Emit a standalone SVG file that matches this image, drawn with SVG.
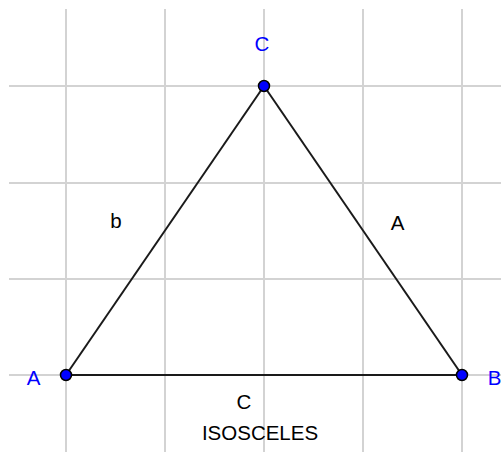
<svg xmlns="http://www.w3.org/2000/svg" width="501" height="452" viewBox="0 0 501 452">
<style>
.grid{stroke:#d3d3d3;stroke-width:2;fill:none}
.edge{stroke:#1a1a1a;stroke-width:2;fill:none}
.pt{fill:#0000ff;stroke:#000;stroke-width:1.5}
.lbl{font-family:"Liberation Sans",Arial,sans-serif;font-size:20.5px;text-anchor:middle}
.blue{fill:#0000ff}
.black{fill:#000}
</style>
<rect width="501" height="452" fill="#fff"/>
<g id="grid" class="grid">
<line x1="66" y1="9" x2="66" y2="452"/>
<line x1="165" y1="9" x2="165" y2="452"/>
<line x1="264" y1="9" x2="264" y2="452"/>
<line x1="363" y1="9" x2="363" y2="452"/>
<line x1="462" y1="9" x2="462" y2="452"/>
<line x1="9" y1="86" x2="501" y2="86"/>
<line x1="9" y1="183" x2="501" y2="183"/>
<line x1="9" y1="279" x2="501" y2="279"/>
<line x1="9" y1="375" x2="501" y2="375"/>
</g>
<g id="connectors" class="edge">
<line id="edge-b" x1="66" y1="375" x2="264" y2="86"/>
<line id="edge-a" x1="264" y1="86" x2="462" y2="375"/>
<line id="edge-c" x1="66" y1="375" x2="462" y2="375"/>
</g>
<g id="node-A">
<circle class="pt" cx="66" cy="375" r="5.5"/>
<text class="lbl blue" x="33.5" y="385">A</text>
</g>
<g id="node-B">
<circle class="pt" cx="462" cy="375" r="5.5"/>
<text class="lbl blue" x="494.5" y="385">B</text>
</g>
<g id="node-C">
<circle class="pt" cx="264" cy="86" r="5.5"/>
<text class="lbl blue" x="262" y="51">C</text>
</g>
<g id="labels">
<text class="lbl black" x="116" y="228">b</text>
<text class="lbl black" x="397.5" y="230">A</text>
<text class="lbl black" x="244" y="409">C</text>
<text class="lbl black" x="260" y="440">ISOSCELES</text>
</g>
</svg>
